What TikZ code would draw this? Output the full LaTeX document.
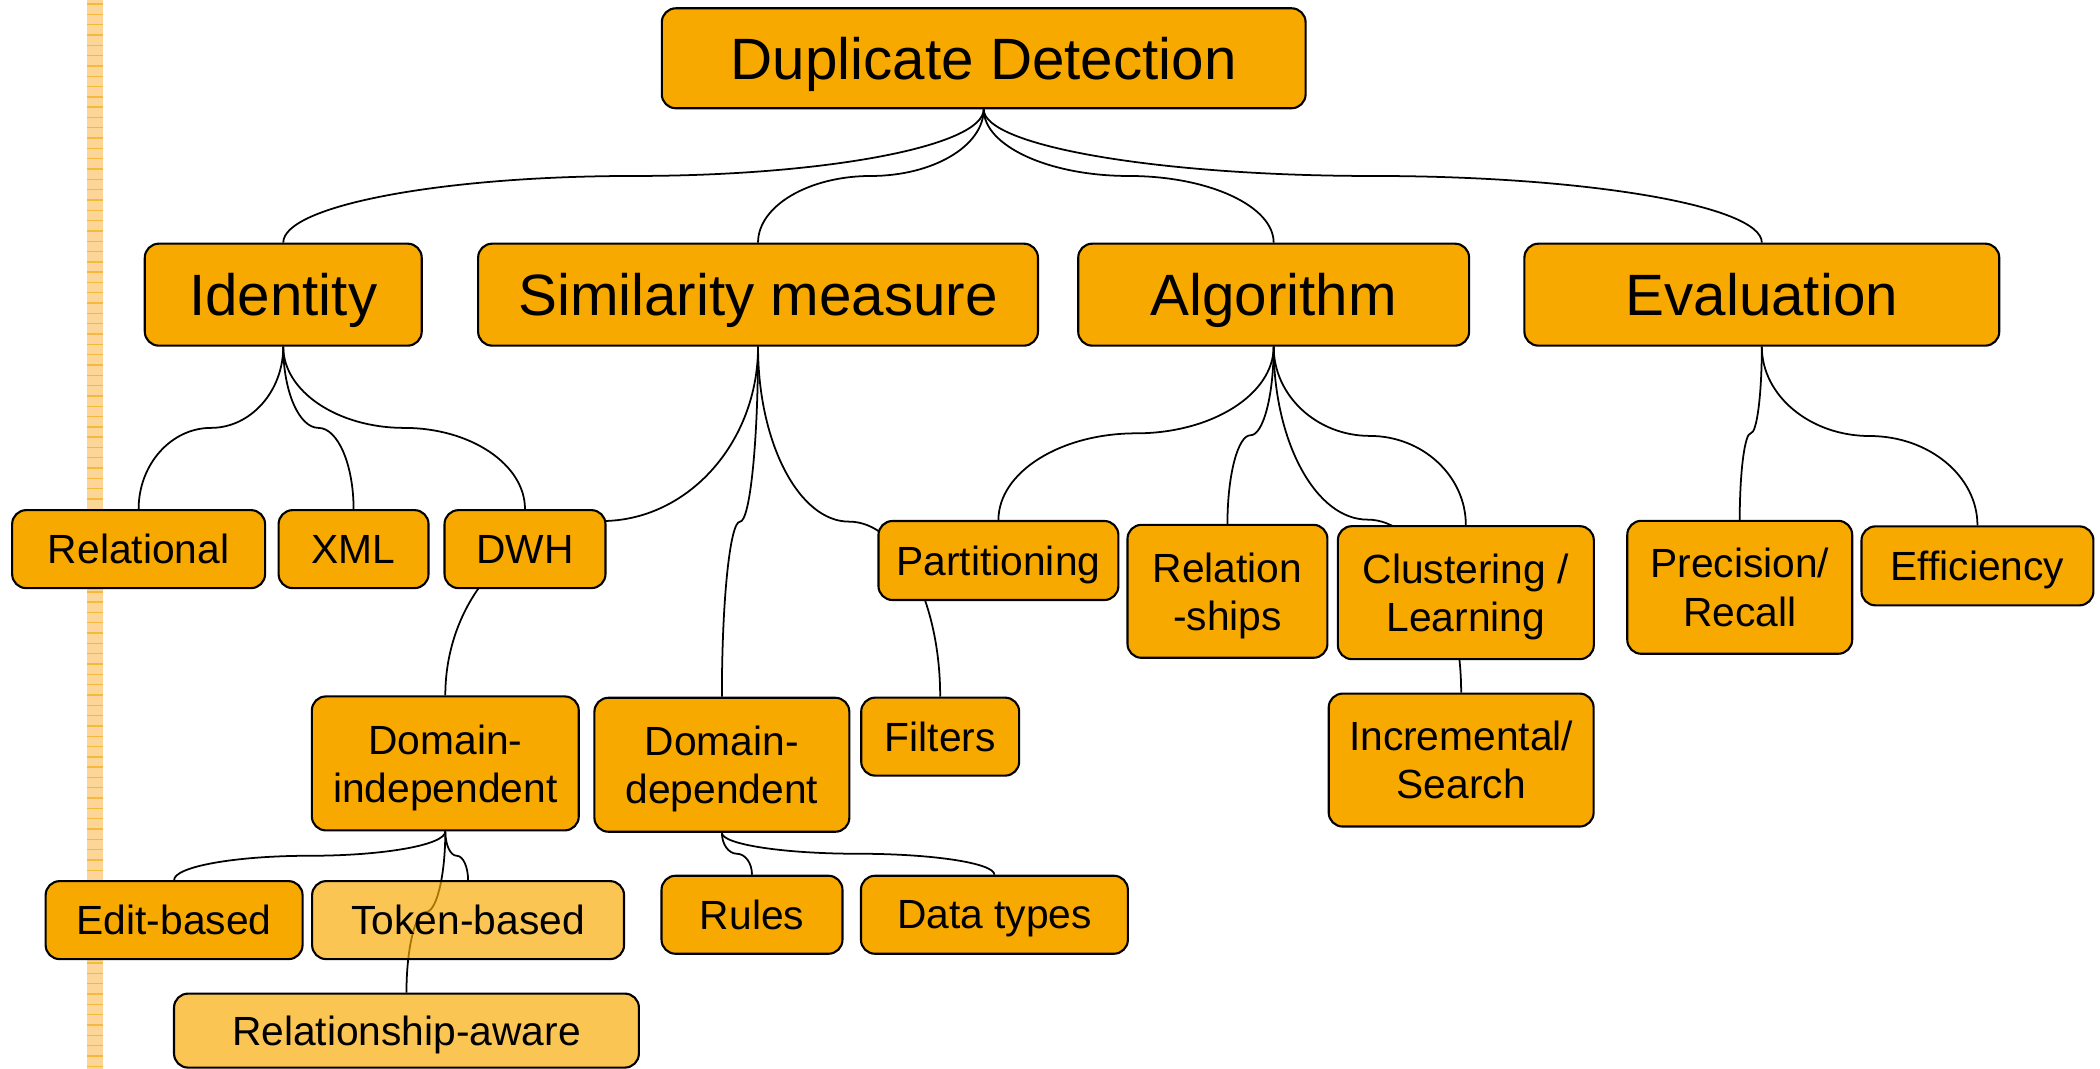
\documentclass[tikz,border=0pt]{standalone}
\usepackage{fontspec}
\setmainfont{Liberation Sans}
\usetikzlibrary{calc,backgrounds}
\definecolor{boxorange}{RGB}{248,169,0}
\definecolor{stripefill}{RGB}{251,214,150}
\definecolor{stripeline}{RGB}{247,184,64}

\begin{document}
\begin{tikzpicture}[x=0.013393cm,y=-0.013393cm,
  box/.style={draw,line width=0.6pt,fill=boxorange,rounded corners=0.14cm,align=center,inner sep=0pt,text depth=0pt},
  big/.style={box,font=\fontsize{16.6}{19}\selectfont},
  small/.style={box,font=\fontsize{11.6}{13.7}\selectfont},
  faded/.style={fill opacity=0.68,text opacity=1},
  branch/.style={line width=0.5pt}]

\useasboundingbox (0,0) rectangle (1568,798);

% stripe on the left
\fill[stripefill] (65,0) rectangle (77,798);
\foreach \y in {3,10.7,...,798} \draw[stripeline,line width=0.4pt] (65,\y) -- (77,\y);

% Duplicate Detection
\node[big,minimum width=6.44cm,minimum height=1.0cm] (dupl) at (734.5,43.5) {Duplicate Detection};

% first level
\node[big,minimum width=2.77cm,minimum height=1.02cm] (ident) at (211.5,220) {Identity};
\node[big,minimum width=5.6cm,minimum height=1.02cm] (simil) at (566,220) {Similarity measure};
\node[big,minimum width=3.91cm,minimum height=1.02cm] (algo) at (951,220) {Algorithm};
\node[big,minimum width=4.75cm,minimum height=1.02cm] (evalu) at (1315.5,220) {Evaluation};

% Identity
\node[small,minimum width=2.53cm,minimum height=0.78cm] (relat) at (103.5,410) {Relational};
\node[small,minimum width=1.5cm,minimum height=0.78cm] (xml) at (264,410) {XML};
\node[small,minimum width=1.61cm,minimum height=0.78cm] (dwh) at (392,410) {DWH};

% Similarity measure
\node[small,minimum width=2.67cm,minimum height=1.34cm] (domind) at (332.5,570) {Domain-\\independent};
\node[small,minimum width=2.55cm,minimum height=1.34cm] (domdep) at (539,571) {Domain-\\dependent};
\node[small,minimum width=1.58cm,minimum height=0.78cm] (filt) at (702,550) {Filters};

% Algorithm
\node[small,minimum width=2.4cm,minimum height=0.79cm] (part) at (745.5,418.5) {Partitioning};
\node[small,minimum width=2.0cm,minimum height=1.33cm] (relsh) at (916.5,441.5) {Relation\\-ships};
\node[small,minimum width=2.56cm,minimum height=1.33cm] (clust) at (1094.5,442.5) {Clustering /\\Learning};
\node[small,minimum width=2.65cm,minimum height=1.33cm] (incr) at (1091,567.5) {Incremental/\\Search};

% Evaluation
\node[small,minimum width=2.25cm,minimum height=1.33cm] (prec) at (1299,438.5) {Precision/\\Recall};
\node[small,minimum width=2.32cm,minimum height=0.79cm] (effic) at (1476.5,422.5) {Efficiency};

% Domain-independent
\node[small,minimum width=2.57cm,minimum height=0.78cm] (editb) at (130,687) {Edit-based};
\node[small,faded,minimum width=3.12cm,minimum height=0.78cm] (token) at (349.5,687) {Token-based};
\node[small,faded,minimum width=4.65cm,minimum height=0.74cm] (relaw) at (303.5,769.5) {Relationship-aware};

% Domain-dependent
\node[small,minimum width=1.81cm,minimum height=0.78cm] (rules) at (561.5,683) {Rules};
\node[small,minimum width=2.67cm,minimum height=0.78cm] (dtype) at (742.5,683) {Data types};

% branches, behind the boxes
\begin{scope}[on background layer]
\foreach \p/\c in {dupl/ident,dupl/simil,dupl/algo,dupl/evalu,
    ident/relat,ident/xml,ident/dwh,
    simil/domind,simil/domdep,simil/filt,
    algo/part,algo/relsh,algo/clust,algo/incr,
    evalu/prec,evalu/effic,
    domind/editb,domind/token,domind/relaw,
    domdep/rules,domdep/dtype}{
  \coordinate (m) at ($(\p.south)!0.5!(\c.north)$);
  \draw[branch] (\p.south) .. controls ($(\p.south)!0.55!(\p.south|-m)$) and ($(m)!0.55!(\p.south|-m)$) .. (m)
    .. controls ($(m)!0.55!(\c.north|-m)$) and ($(\c.north)!0.55!(\c.north|-m)$) .. (\c.north);
}
\end{scope}

\end{tikzpicture}
\end{document}
